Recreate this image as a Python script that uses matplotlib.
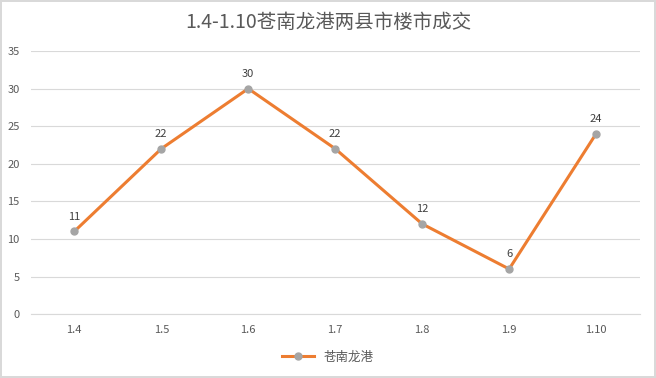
import matplotlib
matplotlib.use('Agg')
import matplotlib.pyplot as plt

plt.rcParams['font.family'] = ['Noto Sans CJK SC', 'DejaVu Sans']

dates = ['1.4', '1.5', '1.6', '1.7', '1.8', '1.9', '1.10']
deals = [11, 22, 30, 22, 12, 6, 24]

fig = plt.figure(figsize=(6.56, 3.78), dpi=100, facecolor='white',
                 edgecolor='#d9d9d9', linewidth=1.5)
ax = fig.add_axes([0.047, 0.169, 0.928, 0.696])

x = range(len(dates))
ax.plot(x, deals, color='#ED7D31', lw=2.2, marker='o', ms=5,
        mfc='#A5A5A5', mec='#A5A5A5', label='苍南龙港', zorder=3)
for xi, v in zip(x, deals):
    ax.annotate(str(v), (xi, v), xytext=(0, 7), textcoords='offset points',
                ha='center', va='bottom', fontsize=8, color='#404040')

ax.set_xlim(-0.5, len(dates) - 0.5)
ax.set_ylim(0, 35)
ax.set_yticks(range(0, 36, 5))
ax.set_xticks(list(x))
ax.set_xticklabels(dates)
ax.grid(axis='y', color='#d9d9d9', lw=0.8)
ax.set_axisbelow(True)
for s in ['top', 'right', 'left']:
    ax.spines[s].set_visible(False)
ax.spines['bottom'].set_color('#d9d9d9')
ax.tick_params(length=0, labelsize=8, colors='#595959', pad=8)

fig.text(0.5, 0.94, '1.4-1.10苍南龙港两县市楼市成交', ha='center', va='center',
         fontsize=14, color='#595959')
fig.legend(loc='center', bbox_to_anchor=(0.5, 0.055), frameon=False,
           fontsize=9, labelcolor='#595959', handlelength=2.5)

fig.savefig('out.png', dpi=100, facecolor='white', edgecolor=fig.get_edgecolor())
